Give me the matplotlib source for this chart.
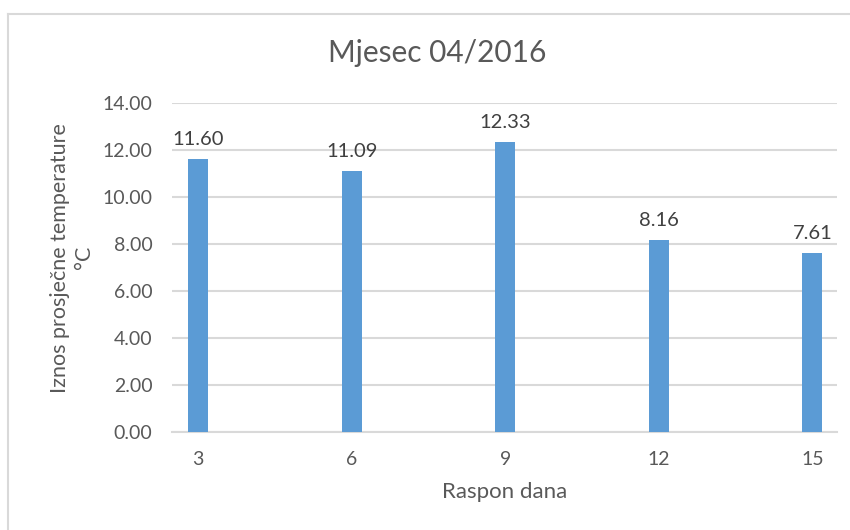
import matplotlib.pyplot as plt
from matplotlib.lines import Line2D

# data
days = ['3', '6', '9', '12', '15']
temps = [11.60, 11.09, 12.33, 8.16, 7.61]

bar_color = '#5B9BD5'
grid_color = '#D9D9D9'
text_color = '#595959'

plt.rcParams['font.family'] = ['Lato', 'DejaVu Sans']

fig = plt.figure(figsize=(8.5, 5.3), dpi=100)
ax = fig.add_axes([172 / 850, 1 - 432 / 530, 665 / 850, 329 / 530])

pos = list(range(len(days)))
bars = ax.bar(pos, temps, width=0.13, color=bar_color, zorder=3)

# value labels above each bar
for p, v in zip(pos, temps):
    ax.annotate('{:.2f}'.format(v), (p, v), xytext=(0, 8), textcoords='offset points',
                ha='center', va='bottom', fontsize=14.5, color='#404040')

ax.set_xlim(-0.17, 4.16)
ax.set_ylim(0, 14)
ax.set_yticks([0, 2, 4, 6, 8, 10, 12, 14])
ax.set_yticklabels(['{:.2f}'.format(t) for t in ax.get_yticks()])
ax.set_xticks(pos)
ax.set_xticklabels(days)
ax.tick_params(axis='both', length=0, labelsize=14, colors=text_color)
ax.tick_params(axis='y', pad=14)
ax.tick_params(axis='x', pad=14)

ax.grid(axis='y', color=grid_color, linewidth=1.5, zorder=0)
for s in ['top', 'right', 'left']:
    ax.spines[s].set_visible(False)
ax.spines['bottom'].set_color(grid_color)
ax.spines['bottom'].set_linewidth(1.5)

ax.set_xlabel('Raspon dana', fontsize=16, color=text_color, labelpad=10)
ax.set_ylabel('Iznos prosječne temperature\n°C', fontsize=15.5, color=text_color,
              labelpad=6, linespacing=1.25)
ax.yaxis.label.set_y(0.53)

fig.text(437 / 850, 1 - 53 / 530, 'Mjesec 04/2016', ha='center', va='center',
         fontsize=21.5, color=text_color)

# light chart border (left and top edges visible in the reference)
fig.add_artist(Line2D([8 / 850, 8 / 850], [0, 1 - 14 / 530], color=grid_color, lw=1.5))
fig.add_artist(Line2D([8 / 850, 1], [1 - 14 / 530, 1 - 14 / 530], color=grid_color, lw=1.5))

fig.savefig('out.png', dpi=100, facecolor='white')
